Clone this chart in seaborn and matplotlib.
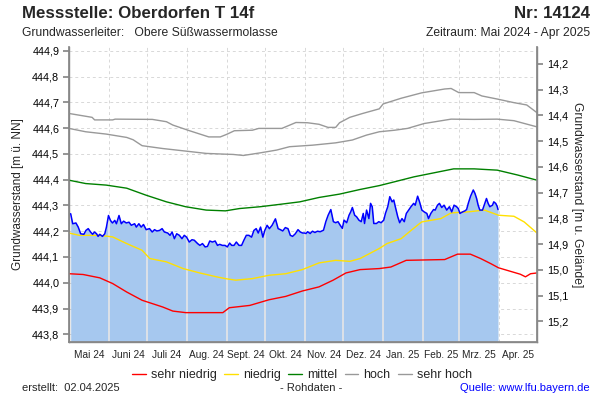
import matplotlib
matplotlib.use("Agg")
import matplotlib.pyplot as plt
import matplotlib.ticker as mticker
from matplotlib.lines import Line2D
import pandas as pd
import seaborn as sns

# ---- data (days since 2024-05-01, level in m ue. NN) ----
start = pd.Timestamp("2024-05-01")
ground = 459.05  # Gelaendehoehe, used for the right axis

raw_days = [1.3, 2.9, 5.4, 7.2, 9.1, 11.6, 13.2, 15.0, 16.8, 18.4, 19.9, 21.5, 22.7, 24.0, 26.1, 27.9,
            29.2, 30.8, 32.3, 33.9, 35.7, 37.0, 39.0, 40.8, 42.6, 44.7, 46.8, 48.6, 51.2, 52.5, 54.5,
            56.3, 58.1, 60.2, 62.8, 64.9, 66.7, 68.5, 70.6, 72.6, 74.4, 77.0, 78.8, 80.4, 82.2, 84.0,
            86.1, 88.1, 89.9, 91.7, 93.8, 95.9, 97.7, 100.3, 102.1, 104.1, 106.2, 108.0, 109.8, 111.9,
            114.0, 115.8, 117.6, 119.6, 121.7, 123.5, 125.3, 126.9, 128.7, 130.5, 132.6, 134.6, 136.4,
            138.3, 140.3, 142.4, 144.2, 146.0, 147.6, 149.4, 151.2, 152.7, 154.5, 156.3, 158.4, 161.0,
            163.1, 164.9, 166.7, 168.7, 170.8, 172.6, 174.4, 176.5, 178.6, 180.4, 182.2, 183.7,
            184.8, 186.1, 188.1, 189.9, 191.8, 193.8, 195.9, 198.5, 200.3, 202.1, 204.2, 206.2, 208.0,
            209.8, 211.4, 213.2, 214.5, 216.6, 218.4, 219.7, 221.0, 222.8, 224.3, 226.1, 227.9, 229.5,
            230.5, 232.1, 233.9, 235.2, 236.5, 237.7, 239.8, 241.6, 243.4, 245.5, 246.8, 248.6, 250.2,
            252.0, 253.3, 254.5, 256.4, 257.9, 259.7, 261.5, 263.1, 264.9, 266.7, 268.8, 270.0, 271.9,
            273.4, 275.2, 277.0, 279.1, 280.4, 282.2, 284.3, 285.6, 287.4, 288.9, 290.7, 292.5, 294.6,
            296.7, 298.5, 300.3, 302.3, 303.6, 304.9, 307.0, 308.8, 310.1, 311.4, 313.2, 315.3, 316.6,
            317.9, 319.1, 320.4, 322.5, 324.3, 325.6, 326.9, 328.2, 330.3, 331.3, 332.8, 333.9, 334.6]
raw_level = [444.268, 444.229, 444.232, 444.216, 444.190, 444.188, 444.203, 444.210, 444.197, 444.188,
             444.197, 444.190, 444.180, 444.188, 444.180, 444.190, 444.216, 444.261, 444.242, 444.232,
             444.242, 444.229, 444.261, 444.229, 444.239, 444.232, 444.235, 444.223, 444.229, 444.216,
             444.229, 444.216, 444.226, 444.206, 444.210, 444.197, 444.206, 444.201, 444.203, 444.210,
             444.197, 444.193, 444.184, 444.197, 444.171, 444.190, 444.184, 444.171, 444.184, 444.177,
             444.158, 444.167, 444.165, 444.152, 444.145, 444.152, 444.139, 444.141, 444.162, 444.158,
             444.162, 444.145, 444.149, 444.145, 444.145, 444.139, 444.154, 444.145, 444.145, 444.158,
             444.145, 444.145, 444.165, 444.184, 444.184, 444.177, 444.203, 444.210, 444.193, 444.216,
             444.177, 444.203, 444.223, 444.210, 444.223, 444.248, 444.210, 444.206, 444.201, 444.214,
             444.210, 444.184, 444.180, 444.190, 444.206, 444.197, 444.193, 444.193,
             444.191, 444.198, 444.191, 444.200, 444.195, 444.200, 444.198, 444.204, 444.237, 444.262,
             444.284, 444.237, 444.233, 444.237, 444.224, 444.211, 444.243, 444.233, 444.262, 444.275,
             444.292, 444.262, 444.256, 444.243, 444.237, 444.269, 444.230, 444.282, 444.249, 444.308,
             444.295, 444.230, 444.230, 444.237, 444.233, 444.243, 444.269, 444.295, 444.334, 444.314,
             444.321, 444.295, 444.256, 444.233, 444.249, 444.237, 444.269, 444.282, 444.295, 444.308,
             444.301, 444.336, 444.314, 444.282, 444.275, 444.269, 444.249, 444.269, 444.284, 444.282,
             444.301, 444.308, 444.292, 444.301, 444.282, 444.295, 444.275, 444.301, 444.295, 444.288,
             444.269, 444.275, 444.279, 444.284, 444.308, 444.336, 444.360, 444.347, 444.327, 444.301,
             444.282, 444.282, 444.308, 444.327, 444.308, 444.295, 444.301, 444.314, 444.308, 444.297,
             444.284]

sehr_hoch_days = [0, 18, 20, 34, 36, 65, 76, 81, 94, 109, 118, 123, 129, 143, 148, 166, 177, 186, 195,
                  202, 208, 211, 219, 229, 242, 245, 259, 275, 293, 298, 304, 316, 322, 334, 347, 357, 365]
sehr_hoch = [444.657, 444.642, 444.632, 444.632, 444.635, 444.634, 444.625, 444.612, 444.590, 444.566,
             444.566, 444.576, 444.590, 444.592, 444.599, 444.599, 444.622, 444.621, 444.615, 444.603,
             444.603, 444.621, 444.642, 444.657, 444.675, 444.694, 444.716, 444.737, 444.752, 444.754,
             444.738, 444.738, 444.725, 444.713, 444.699, 444.690, 444.660]

hoch_days = [0, 13, 29, 45, 50, 57, 73, 91, 107, 122, 128, 136, 149, 162, 172, 190, 208, 221, 232, 242,
             254, 264, 277, 298, 316, 334, 347, 365]
hoch = [444.599, 444.586, 444.577, 444.564, 444.555, 444.532, 444.521, 444.511, 444.502, 444.499,
        444.498, 444.494, 444.504, 444.515, 444.528, 444.534, 444.543, 444.554, 444.573, 444.586,
        444.592, 444.599, 444.618, 444.635, 444.634, 444.635, 444.629, 444.605]

mittel_days = [0, 13, 29, 45, 60, 76, 91, 107, 122, 133, 149, 164, 180, 195, 211, 227, 242, 254, 269,
               285, 300, 316, 334, 350, 365]
mittel = [444.398, 444.385, 444.379, 444.367, 444.340, 444.314, 444.295, 444.282, 444.279, 444.288,
          444.295, 444.304, 444.314, 444.331, 444.344, 444.362, 444.377, 444.392, 444.411, 444.427,
          444.442, 444.442, 444.437, 444.418, 444.398]

niedrig_days = [0, 8, 24, 34, 45, 57, 63, 76, 89, 102, 115, 122, 130, 143, 156, 169, 182, 195, 208, 219,
                227, 242, 248, 259, 267, 275, 290, 298, 311, 324, 335, 347, 355, 365]
niedrig = [444.193, 444.184, 444.184, 444.178, 444.152, 444.126, 444.094, 444.081, 444.055, 444.038,
           444.023, 444.016, 444.010, 444.016, 444.029, 444.035, 444.051, 444.077, 444.087, 444.083,
           444.094, 444.133, 444.152, 444.171, 444.204, 444.236, 444.249, 444.271, 444.275, 444.282,
           444.262, 444.258, 444.236, 444.193]

sehr_niedrig_days = [0, 11, 24, 34, 45, 57, 73, 81, 91, 120, 125, 141, 156, 169, 182, 195, 206, 216, 227,
                     242, 251, 263, 293, 303, 313, 321, 329, 335, 352, 356, 360, 365]
sehr_niedrig = [444.035, 444.032, 444.019, 443.997, 443.964, 443.932, 443.906, 443.890, 443.884, 443.884,
                443.903, 443.912, 443.934, 443.947, 443.968, 443.984, 444.010, 444.038, 444.051, 444.055,
                444.061, 444.087, 444.090, 444.111, 444.111, 444.094, 444.074, 444.058, 444.033, 444.023,
                444.035, 444.038]

month_labels = ["Mai 24", "Juni 24", "Juli 24", "Aug. 24", "Sept. 24", "Okt. 24", "Nov. 24",
                "Dez. 24", "Jan. 25", "Feb. 25", "Mrz. 25", "Apr. 25"]
left_ticks = [443.8, 443.9, 444.0, 444.1, 444.2, 444.3, 444.4, 444.5, 444.6, 444.7, 444.8, 444.9]
right_ticks = [14.2, 14.3, 14.4, 14.5, 14.6, 14.7, 14.8, 14.9, 15.0, 15.1, 15.2]

series = [("sehr niedrig", sehr_niedrig_days, sehr_niedrig, "#ff0000"),
          ("niedrig", niedrig_days, niedrig, "#ffe000"),
          ("mittel", mittel_days, mittel, "#008000"),
          ("hoch", hoch_days, hoch, "#999999"),
          ("sehr hoch", sehr_hoch_days, sehr_hoch, "#999999")]


def to_dates(days):
    return start + pd.to_timedelta(days, unit="D")


def komma(v, pos):
    return f"{v:.1f}".replace(".", ",")


rows = []
for name, d, v, c in series:
    for dd, vv in zip(to_dates(d), v):
        rows.append([name, dd, vv])
df_stat = pd.DataFrame(rows, columns=["klasse", "datum", "wert"])
df_raw = pd.DataFrame({"datum": to_dates(raw_days), "wert": raw_level})

# ---- plot ----
sns.set_theme(style="white")
plt.rcParams["font.family"] = ["Liberation Sans", "DejaVu Sans"]

fig = plt.figure(figsize=(6, 4), dpi=100)
ax = fig.add_axes([0.115, 0.145, 0.78, 0.7375])
ax.set_facecolor("white")

x0, x1 = start, start + pd.Timedelta(days=365)
ax.set_xlim(x0, x1)
ax.set_ylim(443.77, 444.915)

month_starts = pd.date_range(x0, x1, freq="MS")
month_mids = month_starts[:-1] + (month_starts[1:] - month_starts[:-1]) / 2
ax.set_xticks(month_starts)
ax.set_xticklabels([])
ax.set_xticks(month_mids, minor=True)
ax.set_xticklabels(month_labels, minor=True)
ax.tick_params(axis="x", which="minor", length=0, labelsize=7.3, pad=6)
ax.tick_params(axis="x", which="major", length=4, color="#888888", direction="out")

ax.set_yticks(left_ticks)
ax.yaxis.set_major_formatter(mticker.FuncFormatter(komma))
ax.tick_params(axis="y", length=4, color="#888888", direction="out", labelsize=7.8, pad=3)
ax.tick_params(axis="both", colors="#888888", labelcolor="black")

ax.grid(True, which="major", color="#d8d8d8", linestyle=(0, (3, 3)), linewidth=0.7)
ax.set_axisbelow(True)

# light blue area under the raw data, month lines only inside the area
fill = ax.fill_between(df_raw["datum"], 443.7, df_raw["wert"], color="#a6c8ef", linewidth=0, zorder=1)
clip = fill.get_paths()[0]
for m in month_starts[1:-1]:
    vl = ax.axvline(m, color="#e6e6e6", linewidth=1.2, zorder=1.5)
    vl.set_clip_path(clip, ax.transData)

palette = {name: c for name, d, v, c in series}
sns.lineplot(data=df_stat, x="datum", y="wert", hue="klasse", palette=palette, ax=ax,
             legend=False, linewidth=1.0, estimator=None, sort=False, zorder=3)
sns.lineplot(data=df_raw, x="datum", y="wert", color="#0000ff", ax=ax, linewidth=1.1,
             estimator=None, zorder=4)
ax.set_xlabel("")
ax.set_ylabel("Grundwasserstand [m ü. NN]", fontsize=8.5, labelpad=6)

for s in ["left", "right", "bottom"]:
    ax.spines[s].set_color("#888888")
    ax.spines[s].set_linewidth(1.0)
ax.spines["top"].set_visible(False)

ax2 = ax.twinx()
ax2.set_ylim(ground - 443.77, ground - 444.915)
ax2.set_yticks(right_ticks)
ax2.yaxis.set_major_formatter(mticker.FuncFormatter(komma))
ax2.tick_params(axis="y", length=4, color="#888888", direction="out", labelsize=7.8, pad=3,
                labelcolor="black")
ax2.set_ylabel("Grundwasserstand [m u. Gelände]", fontsize=8.7, rotation=-90, labelpad=11)
ax2.grid(False)
for s in ["left", "right", "bottom"]:
    ax2.spines[s].set_color("#888888")
ax2.spines["top"].set_visible(False)

# ---- header / footer texts ----
fig.text(22 / 600, 1 - 13 / 400, "Messstelle: Oberdorfen T 14f", fontsize=12.2, fontweight="bold",
         va="center", ha="left")
fig.text(590 / 600, 1 - 13 / 400, "Nr: 14124", fontsize=12.2, fontweight="bold", va="center", ha="right")
fig.text(22 / 600, 1 - 33 / 400, "Grundwasserleiter:   Obere Süßwassermolasse", fontsize=8.7, va="center")
fig.text(590 / 600, 1 - 33 / 400, "Zeitraum: Mai 2024 - Apr 2025", fontsize=8.7, va="center", ha="right")

handles = [Line2D([], [], color=c, linewidth=1.0) for name, d, v, c in series]
fig.legend(handles, [name for name, d, v, c in series], loc="center", ncol=5,
           bbox_to_anchor=(302 / 600, 1 - 375 / 400), frameon=False, fontsize=9,
           handlelength=1.1, handletextpad=0.4, columnspacing=0.6)

fig.text(22 / 600, 1 - 388 / 400, "erstellt:  02.04.2025", fontsize=8, va="center")
fig.text(311 / 600, 1 - 388 / 400, "- Rohdaten -", fontsize=8, va="center", ha="center")
fig.text(590 / 600, 1 - 388 / 400, "Quelle: www.lfu.bayern.de", fontsize=8, va="center", ha="right",
         color="#0000ff")

fig.savefig("out.png", dpi=100)
